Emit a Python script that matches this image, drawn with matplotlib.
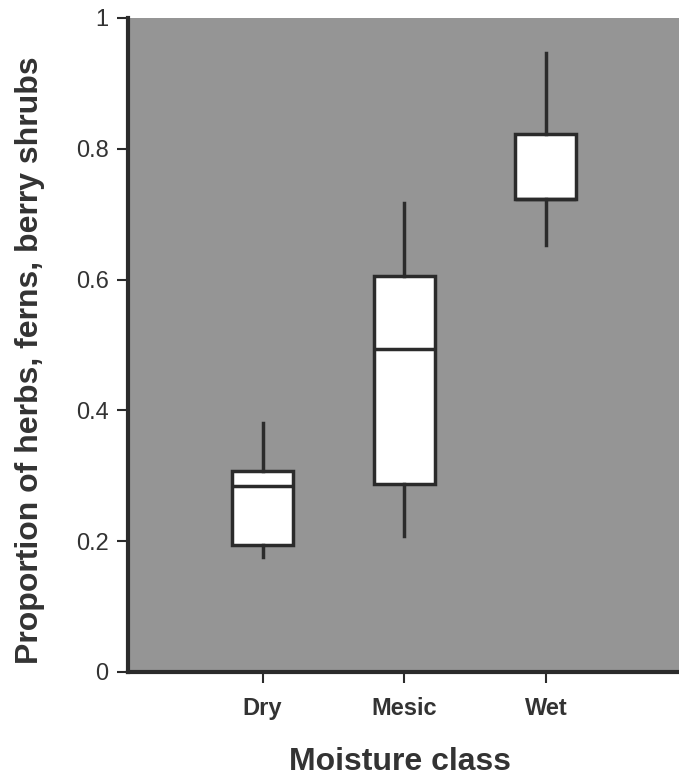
import matplotlib
matplotlib.use("Agg")
import matplotlib.pyplot as plt

plt.rcParams['font.family'] = ['Liberation Sans', 'DejaVu Sans']

classes = ['Dry', 'Mesic', 'Wet']
whis_lo = [0.176, 0.208, 0.653]
q1 = [0.194, 0.287, 0.723]
med = [0.284, 0.494, 0.723]
q3 = [0.307, 0.606, 0.823]
whis_hi = [0.381, 0.717, 0.946]

stats = []
for i in range(len(classes)):
    stats.append({'label': classes[i], 'whislo': whis_lo[i], 'q1': q1[i],
                  'med': med[i], 'q3': q3[i], 'whishi': whis_hi[i]})

dark = '#2b2b2b'
fig = plt.figure(figsize=(6.79, 7.82), dpi=100)
ax = fig.add_axes([0.1885, 0.1407, 0.8115, 0.8363])
ax.set_facecolor('#959595')

ax.bxp(stats, positions=[1, 2, 3], widths=0.43, showfliers=False,
       showcaps=False, patch_artist=True,
       boxprops=dict(facecolor='white', edgecolor=dark, linewidth=2.5),
       medianprops=dict(color=dark, linewidth=2.5),
       whiskerprops=dict(color=dark, linewidth=2.5))

ax.set_xlim(0.05, 3.94)
ax.set_ylim(0, 1)
ax.set_yticks([0, 0.2, 0.4, 0.6, 0.8, 1])
ax.set_yticklabels(['0', '0.2', '0.4', '0.6', '0.8', '1'], fontsize=17, color='#333333')
ax.set_xticks([1, 2, 3])
ax.set_xticklabels(classes, fontsize=17, fontweight='bold', color='#333333')

for s in ['top', 'right']:
    ax.spines[s].set_visible(False)
for s in ['left', 'bottom']:
    ax.spines[s].set_linewidth(3)
    ax.spines[s].set_color(dark)
ax.tick_params(axis='both', direction='out', length=8, width=1.5, color=dark)
ax.tick_params(axis='x', pad=10)
ax.tick_params(axis='y', pad=6)

fig.text(30 / 679, 1 - 360 / 782, 'Proportion of herbs, ferns, berry shrubs',
         rotation=90, fontsize=23, fontweight='bold', color='#333333',
         ha='center', va='center')
fig.text(400 / 679, 1 - 762 / 782, 'Moisture class', fontsize=23,
         fontweight='bold', color='#333333', ha='center', va='center')

fig.savefig('out.png', dpi=100)
